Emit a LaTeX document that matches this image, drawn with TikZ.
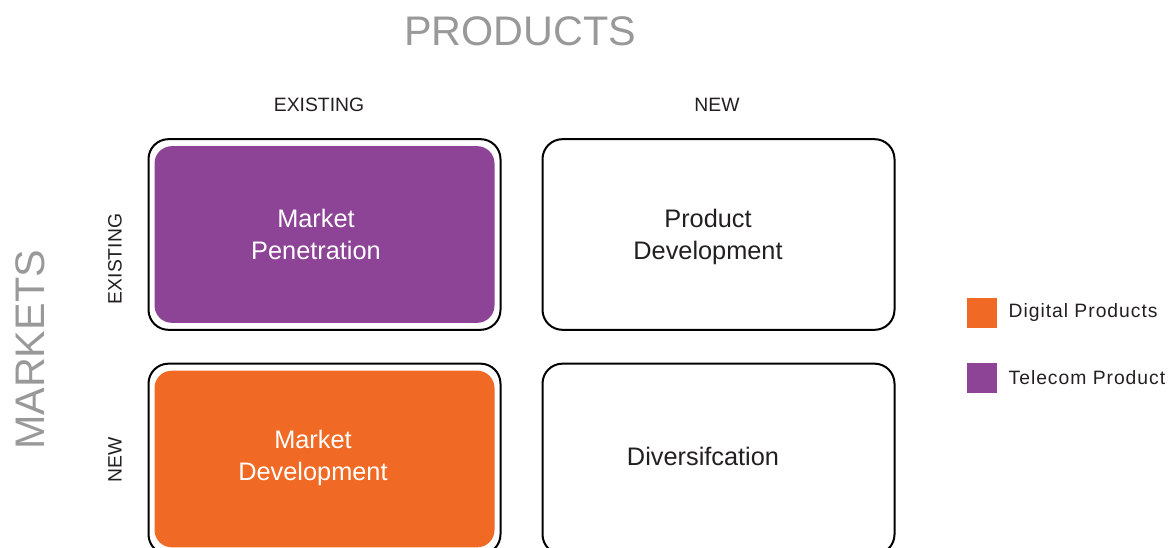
\documentclass[tikz,border=0pt]{standalone}
\usepackage{fontspec}
\setmainfont{Liberation Sans}
\newfontfamily\legendfont[LetterSpace=5]{Liberation Sans}
\usepackage{xcolor}
\usetikzlibrary{positioning}

\definecolor{telecom}{HTML}{8E4496}
\definecolor{digital}{HTML}{F06A25}
\definecolor{axisgrey}{HTML}{999999}
\definecolor{inkdark}{HTML}{231F20}

\begin{document}
\begin{tikzpicture}[
    x=0.75pt, y=-0.75pt,
    cell/.style={rectangle, draw=black, line width=1.5pt, rounded corners=15pt, minimum width=264pt, minimum height=143pt},
    cellfill/.style={rectangle, rounded corners=13pt, minimum width=255pt, minimum height=132.5pt},
    celltext/.style={align=center, font=\fontsize{19}{24}\selectfont, text=inkdark},
    axistitle/.style={font=\fontsize{31}{36}\selectfont, text=axisgrey},
    axislabel/.style={font=\fontsize{14.5}{17}\selectfont, text=inkdark},
    legendbox/.style={rectangle, minimum size=22.5pt, inner sep=0pt},
    legendtext/.style={font=\legendfont\fontsize{14.5}{17}\selectfont, text=inkdark, anchor=west}
]
    \useasboundingbox (0,0) rectangle (1174,548);
    \clip (0,0) rectangle (1174,548);

    % axis titles
    \node [axistitle] (products) at (520,31) {PRODUCTS};
    \node [axistitle, rotate=90] (markets) at (30,350) {MARKETS};

    % column and row headings
    \node [axislabel] (pexist) at (319,105) {EXISTING};
    \node [axislabel] (pnew) at (717,105) {NEW};
    \node [axislabel, rotate=90] (mexist) at (115,259) {EXISTING};
    \node [axislabel, rotate=90] (mnew) at (115,460) {NEW};

    % the four cells
    \node [cell] (c11) at (324.5,234.5) {};
    \node [cell] (c12) at (718.5,234.5) {};
    \node [cell] (c21) at (324.5,459) {};
    \node [cell] (c22) at (718.5,459) {};

    \node [cellfill, fill=telecom] (f11) at (c11) {};
    \node [cellfill, fill=digital] (f21) at (c21) {};

    \node [celltext, text=white] (penetration) at (316,234) {Market\\Penetration};
    \node [celltext] (proddev) at (708,237) {Product\\Development};
    \node [celltext, text=white] (marketdev) at (313,458) {Market\\Development};
    \node [celltext] (diversif) at (703,456) {Diversifcation};

    % legend
    \node [legendbox, fill=digital] (ldigital) at (982,313) {};
    \node [legendbox, fill=telecom] (ltelecom) at (982,378) {};
    \node [legendtext, right=5pt of ldigital] (tdigital) {Digital Products};
    \node [legendtext, right=5pt of ltelecom] (ttelecom) {Telecom Product};
\end{tikzpicture}
\end{document}
